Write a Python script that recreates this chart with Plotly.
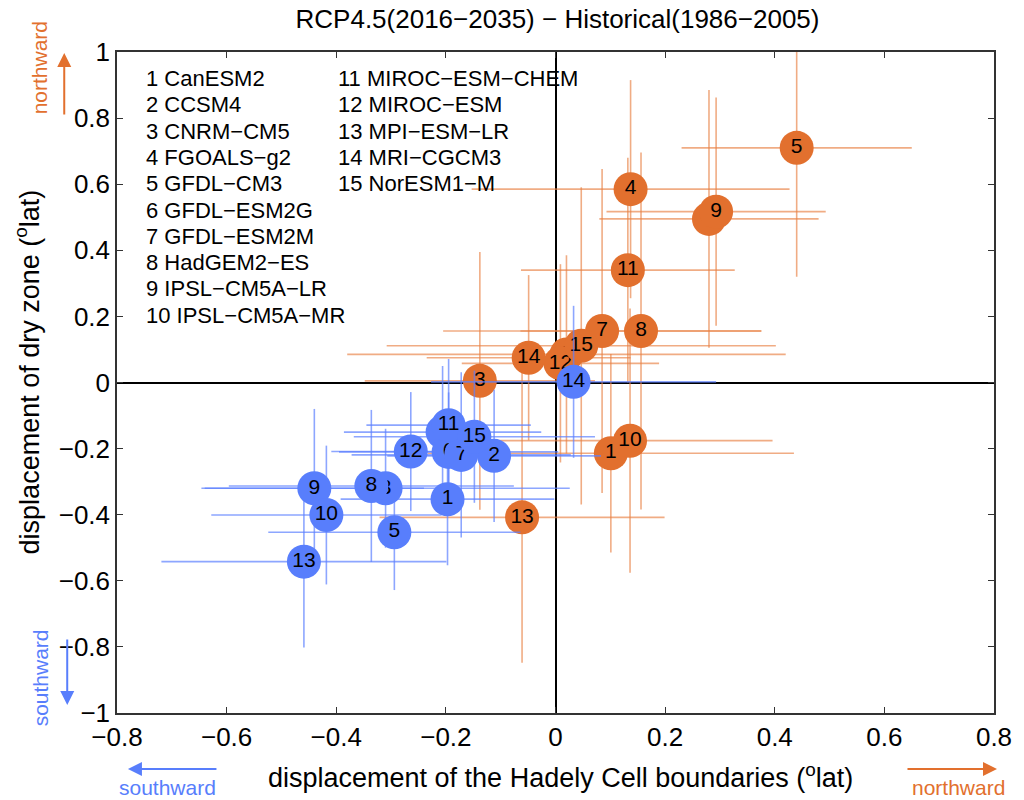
import plotly.graph_objects as go

# CMIP5 models (numbered in the key)
models = ["CanESM2", "CCSM4", "CNRM-CM5", "FGOALS-g2", "GFDL-CM3", "GFDL-ESM2G",
          "GFDL-ESM2M", "HadGEM2-ES", "IPSL-CM5A-LR", "IPSL-CM5A-MR",
          "MIROC-ESM-CHEM", "MIROC-ESM", "MPI-ESM-LR", "MRI-CGCM3", "NorESM1-M"]

# Northern Hemisphere: Hadley cell edge shift (x), dry-zone shift (y), spreads
nh_x = [0.101, 0.020, -0.138, 0.137, 0.440, 0.280, 0.085, 0.156, 0.293, 0.136,
        0.132, 0.009, -0.061, -0.049, 0.047]
nh_y = [-0.214, 0.085, 0.005, 0.585, 0.710, 0.495, 0.156, 0.156, 0.517, -0.176,
        0.340, 0.058, -0.408, 0.075, 0.111]
nh_ex = [0.334, 0.400, 0.210, 0.290, 0.210, 0.200, 0.290, 0.220, 0.200, 0.260,
         0.195, 0.180, 0.260, 0.186, 0.355]
nh_ey = [0.300, 0.300, 0.390, 0.330, 0.390, 0.390, 0.490, 0.540, 0.345, 0.400,
         0.340, 0.300, 0.440, 0.250, 0.480]

# Southern Hemisphere
sh_x = [-0.197, -0.112, -0.310, -0.206, -0.294, -0.195, -0.172, -0.336, -0.440, -0.418,
        -0.195, -0.264, -0.459, 0.033, -0.148]
sh_y = [-0.353, -0.222, -0.320, -0.150, -0.453, -0.210, -0.219, -0.313, -0.320, -0.401,
        -0.129, -0.209, -0.542, 0.002, -0.164]
sh_ex = [0.195, 0.195, 0.336, 0.180, 0.230, 0.200, 0.200, 0.260, 0.200, 0.210,
         0.150, 0.145, 0.260, 0.260, 0.220]
sh_ey = [0.200, 0.200, 0.180, 0.200, 0.175, 0.180, 0.250, 0.230, 0.240, 0.210,
         0.200, 0.180, 0.260, 0.230, 0.200]

x_ticks = [-0.8, -0.6, -0.4, -0.2, 0, 0.2, 0.4, 0.6, 0.8]
y_ticks = [-1, -0.8, -0.6, -0.4, -0.2, 0, 0.2, 0.4, 0.6, 0.8, 1]

ORANGE = "rgb(226,112,46)"
ORANGE_BAR = "rgba(232,128,66,0.65)"
BLUE = "rgb(88,126,252)"
BLUE_BAR = "rgba(92,128,255,0.7)"
FONT = "Liberation Sans, Arial, Helvetica, sans-serif"

fig = go.Figure()


def add_hemisphere(xs, ys, exs, eys, dot_color, bar_color):
    # spread bars first, then one numbered dot per model so later ones sit on top
    fig.add_trace(go.Scatter(
        x=xs, y=ys, mode="markers",
        marker=dict(size=1, opacity=0),
        error_x=dict(type="data", array=exs, color=bar_color, thickness=1.6, width=0),
        error_y=dict(type="data", array=eys, color=bar_color, thickness=1.6, width=0),
        hoverinfo="skip", showlegend=False))
    for i, (x, y) in enumerate(zip(xs, ys)):
        fig.add_trace(go.Scatter(
            x=[x], y=[y], mode="markers+text",
            marker=dict(size=34, color=dot_color, line=dict(width=0)),
            text=[str(i + 1)], textposition="middle center",
            textfont=dict(family=FONT, size=21, color="black"),
            name=models[i], showlegend=False))


add_hemisphere(nh_x, nh_y, nh_ex, nh_ey, ORANGE, ORANGE_BAR)
add_hemisphere(sh_x, sh_y, sh_ex, sh_ey, BLUE, BLUE_BAR)

# plot-area geometry in pixels (for paper-coordinate placement of text)
W, H = 1024, 800
L, R, T, B = 117, 26, 52, 87
pw, ph = W - L - R, H - T - B


def px_to_paper(px, py):
    return (px - L) / pw, (H - B - py) / ph


annotations = []
# numbered model key, two columns
for i, name in enumerate(models):
    col, row = (0, i) if i < 10 else (1, i - 10)
    px = 144 if col == 0 else 337
    py = 78.5 + 26.3 * row
    ax_, ay_ = px_to_paper(px, py)
    annotations.append(dict(
        x=ax_, y=ay_, xref="paper", yref="paper", xanchor="left", yanchor="middle",
        text=f"{i + 1} {name.replace('-', '\u2212')}", showarrow=False,
        font=dict(family=FONT, size=22, color="black")))

# axis titles
tx, ty = px_to_paper(563, 776)
annotations.append(dict(
    x=tx, y=ty, xref="paper", yref="paper", xanchor="center", yanchor="middle",
    text="displacement of the Hadely Cell boundaries (<sup>o</sup>lat)", showarrow=False,
    font=dict(family=FONT, size=27, color="black")))
tx, ty = px_to_paper(27, 372)
annotations.append(dict(
    x=tx, y=ty, xref="paper", yref="paper", xanchor="center", yanchor="middle",
    text="displacement of dry zone (<sup>o</sup>lat)", textangle=-90, showarrow=False,
    font=dict(family=FONT, size=27, color="black")))


# direction hints
def arrow(x0, y0, x1, y1, color):
    a1, b1 = px_to_paper(x1, y1)
    annotations.append(dict(
        x=a1, y=b1, xref="paper", yref="paper", axref="pixel", ayref="pixel",
        ax=x0 - x1, ay=y0 - y1,
        text="", showarrow=True, arrowhead=2, arrowsize=1.4, arrowwidth=2, arrowcolor=color))


def label(px, py, text, color, angle=0):
    a, b = px_to_paper(px, py)
    annotations.append(dict(
        x=a, y=b, xref="paper", yref="paper", xanchor="center", yanchor="middle",
        text=text, textangle=angle, showarrow=False,
        font=dict(family=FONT, size=21, color=color)))


arrow(64, 116, 64, 53, ORANGE)
label(39, 68, "northward", ORANGE, -90)
arrow(67, 638, 67, 705, BLUE)
label(40, 678, "southward", BLUE, -90)
arrow(218, 769, 128, 769, BLUE)
label(168, 787, "southward", BLUE)
arrow(910, 769, 1001, 769, ORANGE)
label(962, 787, "northward", ORANGE)

axis_common = dict(
    showgrid=False, zeroline=True, zerolinecolor="black", zerolinewidth=1.5,
    showline=True, linecolor="#333333", linewidth=1.5, mirror="ticks",
    ticks="inside", ticklen=6, tickcolor="#333333", tickwidth=1.2,
    tickfont=dict(family=FONT, size=26, color="black"))

fig.update_layout(
    width=W, height=H,
    margin=dict(l=L, r=R, t=T, b=B),
    paper_bgcolor="white", plot_bgcolor="white",
    title=dict(text="RCP4.5(2016\u22122035) \u2212 Historical(1986\u22122005)",
               x=(L + pw / 2) / W, xanchor="center", y=1 - 19 / H, yanchor="middle",
               font=dict(family=FONT, size=26, color="black")),
    xaxis=dict(range=[-0.8, 0.8], tickvals=x_ticks,
               ticktext=[f"{v:g}".replace("-", "\u2212") for v in x_ticks], **axis_common),
    yaxis=dict(range=[-1, 1], tickvals=y_ticks,
               ticktext=[f"{v:g}".replace("-", "\u2212") for v in y_ticks], **axis_common),
    annotations=annotations,
    showlegend=False,
)

fig.write_html("out.html")
